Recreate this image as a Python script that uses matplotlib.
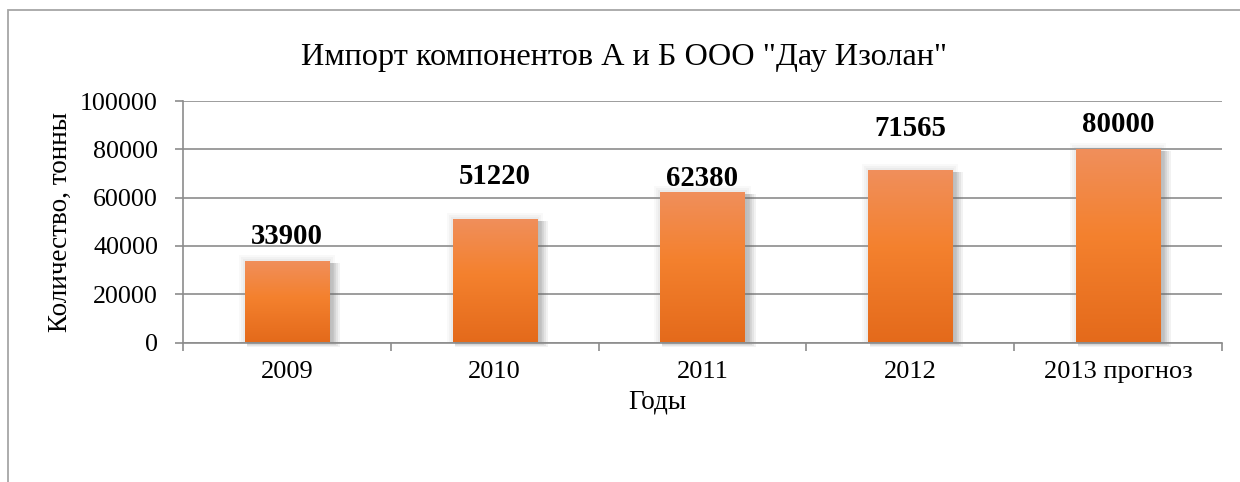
import matplotlib
matplotlib.use("Agg")
import matplotlib.pyplot as plt
import numpy as np
from matplotlib.patches import Rectangle
from matplotlib.colors import LinearSegmentedColormap

categories = ["2009", "2010", "2011", "2012", "2013 прогноз"]
values = [33900, 51220, 62380, 71565, 80000]
yticks = [0, 20000, 40000, 60000, 80000, 100000]
title = 'Импорт компонентов А и Б ООО "Дау Изолан"'
ylabel = "Количество, тонны"
xlabel = "Годы"

# label vertical offsets above bar tops (points), as placed in the reference
label_offsets = [12.2, 25.2, 4.3, 24.5, 12.2]

plt.rcParams["font.family"] = ["Liberation Serif", "DejaVu Serif"]

W, H = 1240, 482
fig = plt.figure(figsize=(W / 100, H / 100), dpi=100)
fig.patch.set_facecolor("white")

# outer frame (extends past right/bottom edges)
frame = Rectangle((8 / W, -0.1), 1.2, 1 - 10 / H + 0.1, transform=fig.transFigure,
                  fill=False, edgecolor="#a6a6a6", linewidth=1.3)
fig.patches.append(frame)

ax = fig.add_axes([183 / W, 1 - 342.5 / H, (1222 - 183) / W, (342.5 - 101) / H])
x = np.arange(len(categories))
bw = 0.405
bars = ax.bar(x, values, width=bw, color="none", edgecolor="none", zorder=3)

ax.set_xlim(-0.5, len(categories) - 0.5)
ax.set_ylim(0, 100000)
ax.set_yticks(yticks)
ax.set_yticklabels([str(v) for v in yticks])
ax.yaxis.grid(True, color="#8c8c8c", linewidth=1.2, zorder=0)
ax.set_axisbelow(True)
for s in ["top", "right"]:
    ax.spines[s].set_visible(False)
for s in ["left", "bottom"]:
    ax.spines[s].set_color("#8c8c8c")
    ax.spines[s].set_linewidth(1.2)

ax.set_xticks(x)
ax.set_xticklabels(categories)
ax.set_xticks(np.arange(len(categories) + 1) - 0.5, minor=True)
ax.tick_params(axis="x", which="major", length=0, pad=13.5, labelsize=19)
ax.tick_params(axis="x", which="minor", length=6, width=1.2, color="#8c8c8c", direction="out")
ax.tick_params(axis="y", length=6, width=1.2, color="#8c8c8c", pad=12, labelsize=18.7)

# gradient for bars
cmap = LinearSegmentedColormap.from_list(
    "og", [(0.0, "#e46a1b"), (0.55, "#f4812e"), (1.0, "#f08f5c")])
grad = np.linspace(0, 1, 256).reshape(-1, 1)

pxx = 5 / (1222 - 183)        # data units per pixel (x)
pxy = 100000 / 241.5          # data units per pixel (y)

for b, off in zip(bars, label_offsets):
    x0, w, h = b.get_x(), b.get_width(), b.get_height()
    # light halo around the bar
    for n, a in [(6, 0.05), (4, 0.06), (2, 0.07)]:
        ax.add_patch(Rectangle((x0 - n * pxx, 0), w + 2 * n * pxx, h + n * pxy,
                               facecolor="#909090", edgecolor="none", alpha=a, zorder=2))
    # darker soft shadow to the right / bottom
    for n, a in [(9, 0.08), (7, 0.09), (5, 0.10), (3, 0.11)]:
        ax.add_patch(Rectangle((x0 + 2 * pxx, -n * 0.45 * pxy), w + n * pxx,
                               h - 2 * pxy + n * 0.45 * pxy,
                               facecolor="#606060", edgecolor="none", alpha=a, zorder=2,
                               clip_on=False))
    im = ax.imshow(grad, extent=[x0, x0 + w, 0, h], origin="lower", cmap=cmap,
                   aspect="auto", zorder=3)
    clip = Rectangle((x0, 0), w, h, transform=ax.transData)
    im.set_clip_path(clip)
    ax.annotate(f"{int(h)}", (x0 + w / 2, h), xytext=(0, off), textcoords="offset points",
                ha="center", va="baseline", fontsize=20.7, fontweight="bold", zorder=5)

ax.set_xlim(-0.5, len(categories) - 0.5)
ax.set_ylim(0, 100000)

fig.text(624 / W, 1 - 65 / H, title, ha="center", va="baseline", fontsize=23.25)
fig.text(657 / W, 1 - 408 / H, xlabel, ha="center", va="baseline", fontsize=19.5)
fig.text(60 / W, 1 - 222 / H, ylabel, ha="center", va="center", rotation=90, fontsize=19.5)

fig.savefig("out.png", dpi=100, facecolor="white")
